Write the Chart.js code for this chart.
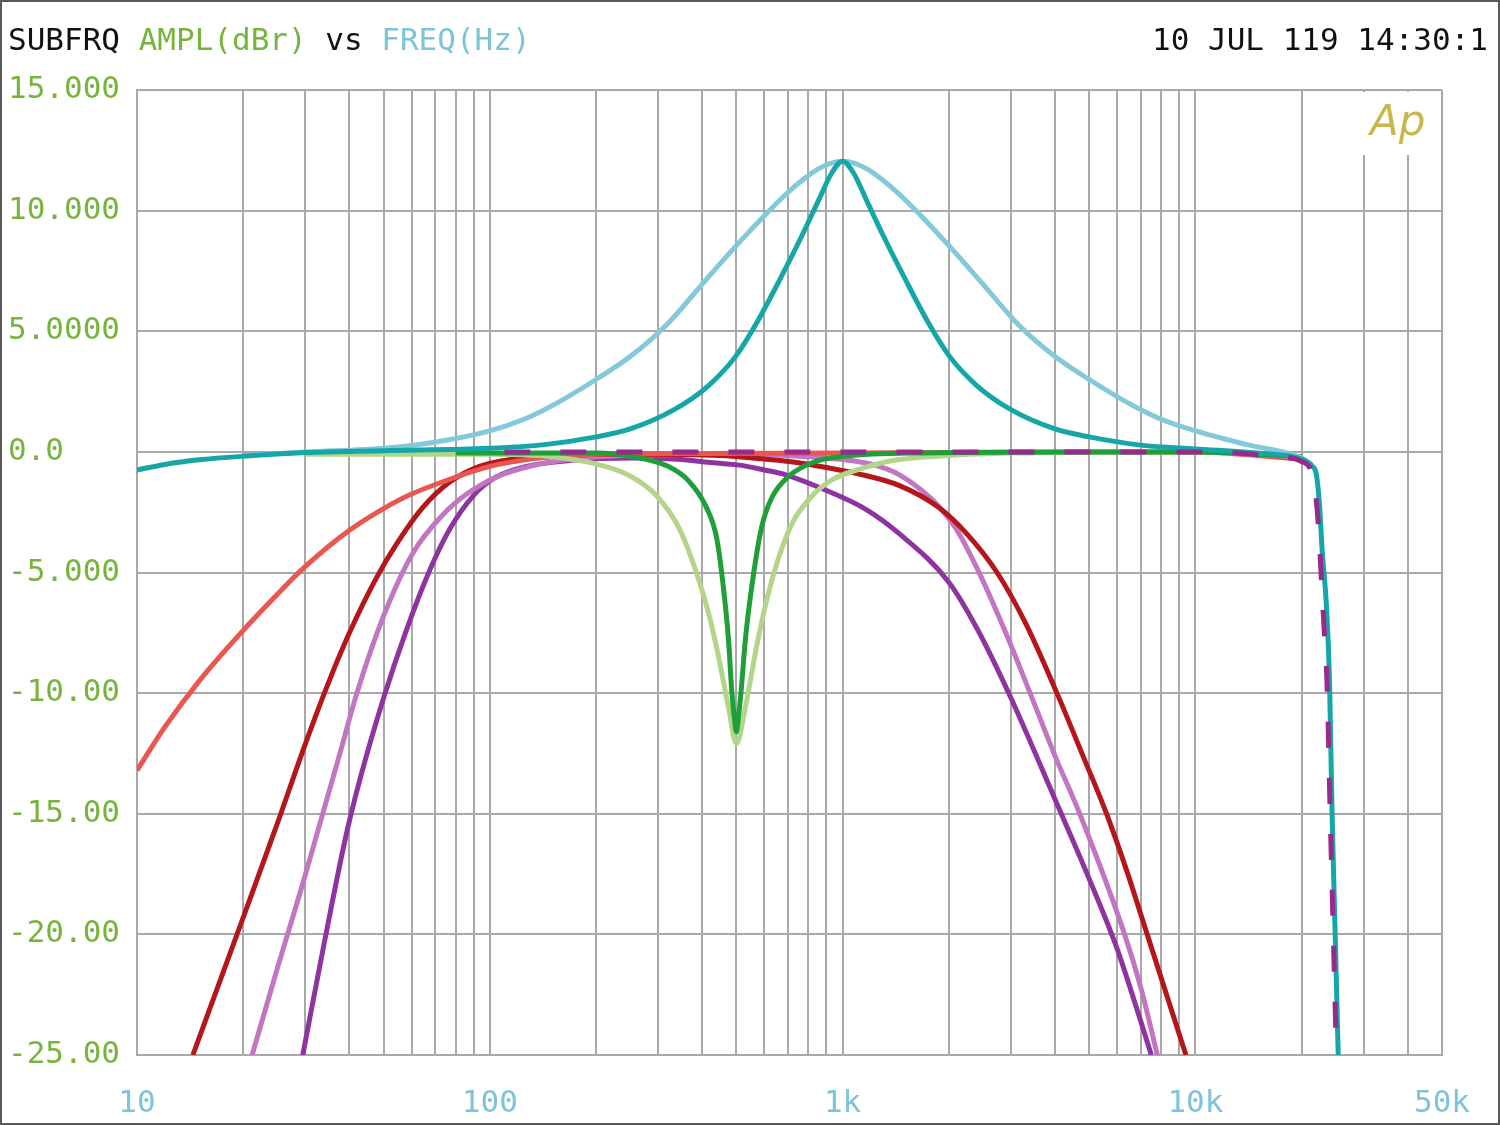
<!DOCTYPE html>
<html>
<head>
<meta charset="utf-8">
<title>SUBFRQ AMPL(dBr) vs FREQ(Hz)</title>
<script src="https://cdn.jsdelivr.net/npm/chart.js@4.4.1/dist/chart.umd.min.js"></script>
<style>
    html, body { margin: 0; padding: 0; background: #fff; }
    canvas { display: block; }
</style>
</head>
<body>
<canvas id="subfrq-chart" width="1500" height="1125"></canvas>
<script>
// axis ticks
var gridFreqs = [10, 20, 30, 40, 50, 60, 70, 80, 90,
    100, 200, 300, 400, 500, 600, 700, 800, 900,
    1000, 2000, 3000, 4000, 5000, 6000, 7000, 8000, 9000,
    10000, 20000, 30000, 40000, 50000];
var xLabelFreqs = [10, 100, 1000, 10000, 50000];
var xLabelText = ['10', '100', '1k', '10k', '50k'];
var yTickValues = [15, 10, 5, 0, -5, -10, -15, -20, -25];
var yTickText = ['15.000', '10.000', '5.0000', '0.0', '-5.000', '-10.00', '-15.00', '-20.00', '-25.00'];

// curves (Hz / dBr)
var magFreq = [110, 1000, 10000, 17000, 20000, 21300, 21800, 22300, 22800, 23200, 23600, 24100, 24600, 25100];
var magDb = [0, 0, 0, -0.2, -0.4, -0.8, -1.5, -3.0, -5.5, -7.5, -9.5, -15, -20, -25];

var tealFreq = [10, 12, 15, 20, 30, 50, 100, 143, 200, 250, 333, 417, 500, 571, 667, 769, 847, 935, 1000,
    1070, 1180, 1300, 1500, 1750, 2000, 2400, 3000, 4000, 5000, 7000, 10000, 15000, 20000,
    21450, 22000, 22450, 22900, 23500, 24000, 24400, 24900, 25400];
var tealDb = [-0.75, -0.52, -0.33, -0.18, -0.03, 0.05, 0.15, 0.3, 0.62, 0.95, 1.75, 2.75, 4.0, 5.35, 7.2, 9.0, 10.3, 11.6, 12.05,
    11.6, 10.3, 9.0, 7.2, 5.35, 4.0, 2.75, 1.75, 0.95, 0.62, 0.28, 0.12, -0.05, -0.3,
    -0.6, -0.9, -2.1, -4.2, -6.3, -9.5, -15, -20, -25];

var lblueFreq = [20, 30, 50, 71, 100, 125, 154, 200, 250, 316, 408, 501, 603, 692, 776, 851, 923, 1000,
    1084, 1175, 1288, 1445, 1660, 1995, 2450, 3160, 4000, 5000, 6500, 8000, 10000, 14000, 20000, 21450];
var lblueDb = [-0.15, 0, 0.15, 0.42, 0.87, 1.35, 2.0, 3.0, 3.95, 5.25, 7.1, 8.57, 9.82, 10.69, 11.31, 11.72, 11.96, 12.05,
    11.96, 11.72, 11.31, 10.69, 9.82, 8.57, 7.1, 5.25, 3.95, 3.0, 2.0, 1.35, 0.87, 0.3, -0.25, -0.55];

var greenFreq = [80, 200, 255, 320, 366, 411, 440, 460, 475, 485, 495, 500, 505, 515, 530, 555, 590, 630, 705, 820, 980, 1500, 5000, 10000, 20000];
var greenDb = [-0.05, -0.05, -0.2, -0.6, -1.2, -2.3, -3.6, -5.7, -7.8, -9.9, -11.2, -11.6, -11.2, -10.0, -7.8, -5.4, -3.1, -1.9, -1.0, -0.45, -0.2, -0.05, 0, 0, -0.2];

var lgreenFreq = [30, 100, 150, 200, 250, 296, 345, 385, 419, 445, 475, 500, 530, 570, 610, 660, 720, 810, 935, 1100, 1400, 2000, 3000, 10000, 20000];
var lgreenDb = [-0.1, -0.1, -0.2, -0.5, -1.0, -1.8, -3.2, -5.0, -6.8, -8.5, -10.6, -12.1, -10.6, -8.1, -6.1, -4.35, -2.95, -1.9, -1.15, -0.75, -0.35, -0.15, -0.05, 0, -0.2];

var coralFreq = [10, 12, 15, 20, 25, 30, 40, 50, 60, 80, 100, 130, 170, 250, 1000, 5000, 10000, 20000];
var coralDb = [-13.2, -11.4, -9.5, -7.4, -5.9, -4.75, -3.25, -2.35, -1.75, -1.05, -0.6, -0.3, -0.15, -0.08, -0.05, 0, 0, -0.3];

var redFreq = [14.4, 20, 25, 29.5, 34.5, 40, 47.8, 54.5, 64.6, 77, 93.5, 116, 150, 250, 450, 600, 750, 900,
    1100, 1450, 1870, 2250, 2740, 3300, 4050, 4800, 5600, 6400, 7300, 9400];
var redDb = [-25, -19.3, -15.4, -12.4, -9.75, -7.5, -5.2, -3.8, -2.3, -1.25, -0.6, -0.3, -0.15, -0.1, -0.15, -0.3, -0.45, -0.65,
    -0.9, -1.4, -2.3, -3.4, -5.0, -7.1, -10.0, -12.6, -15.0, -17.4, -20.0, -25];

var orchidFreq = [21.2, 25, 29.5, 33.6, 37.6, 42, 50, 60.5, 73.7, 86, 104, 130, 170, 250, 500, 800,
    1100, 1300, 1450, 1800, 2100, 2400, 2900, 3400, 4000, 4700, 6300, 7000, 7800];
var orchidDb = [-25, -21.4, -17.9, -15.0, -12.5, -10.0, -6.8, -4.2, -2.6, -1.75, -1.05, -0.6, -0.3, -0.15, -0.1, -0.2,
    -0.4, -0.65, -0.95, -2.0, -3.2, -4.8, -7.5, -10.0, -12.6, -15.0, -20.0, -22.2, -25];

var purpleFreq = [29.5, 34, 39, 42.8, 50, 58, 67.6, 77, 90, 104, 127, 170, 250, 330, 430, 510, 600, 690,
    900, 1170, 1450, 2000, 2400, 3000, 4000, 5000, 6000, 7000, 7500];
var purpleDb = [-25, -20.3, -16.0, -13.6, -10.2, -7.4, -4.9, -3.2, -1.8, -1.05, -0.6, -0.35, -0.25, -0.3, -0.45, -0.55, -0.75, -0.95,
    -1.6, -2.4, -3.4, -5.4, -7.3, -10.2, -14.4, -17.7, -20.6, -23.6, -25];

var GREEN_TXT = '#76b43e';
var BLUE_TXT = '#7cc4d8';
var GRID = '#a8a8a8';
var MONO = '"DejaVu Sans Mono", "Liberation Mono", monospace';

function pts(freqs, dbs) {
    return freqs.map(function (f, i) { return { x: f, y: dbs[i] }; });
}

function trace(label, freqs, dbs, color, dash) {
    return {
        label: label,
        data: pts(freqs, dbs),
        borderColor: color,
        borderWidth: 5,
        borderDash: dash || [],
        pointRadius: 0,
        fill: false,
        cubicInterpolationMode: 'monotone'
    };
}

// title, date stamp, Ap logo and outer frame
var decorPlugin = {
    id: 'decor',
    beforeDatasetsDraw: function (chart) {
        var ctx = chart.ctx;
        var x = chart.scales.x, y = chart.scales.y;
        var top = chart.chartArea.top;
        // the 30k/40k grid lines stop under the logo
        var x0 = x.getPixelForValue(26000), x1 = x.getPixelForValue(46000);
        ctx.save();
        ctx.fillStyle = '#fff';
        ctx.fillRect(x0, top + 2, x1 - x0, y.getPixelForValue(12.3) - top - 2);
        ctx.restore();
    },
    afterDraw: function (chart) {
        var ctx = chart.ctx;
        ctx.save();
        ctx.font = '31px ' + MONO;
        ctx.textBaseline = 'alphabetic';
        ctx.textAlign = 'left';
        var parts = [['SUBFRQ ', '#111'], ['AMPL(dBr)', GREEN_TXT], [' vs ', '#111'], ['FREQ(Hz)', BLUE_TXT]];
        var tx = 8;
        parts.forEach(function (p) {
            ctx.fillStyle = p[1];
            ctx.fillText(p[0], tx, 50);
            tx += ctx.measureText(p[0]).width;
        });
        ctx.fillStyle = '#111';
        ctx.textAlign = 'right';
        ctx.fillText('10 JUL 119 14:30:1', 1488, 50);

        ctx.font = 'italic 200 42px "DejaVu Sans ExtraLight", "DejaVu Sans", sans-serif';
        ctx.fillStyle = '#c8b84a';
        ctx.textAlign = 'left';
        ctx.fillText('Ap', 1370, 135);

        ctx.strokeStyle = '#5a5a5a';
        ctx.lineWidth = 4;
        ctx.strokeRect(0, 0, chart.width, chart.height);
        ctx.restore();
    }
};

document.addEventListener("DOMContentLoaded", function () {
    var ctx = document.getElementById('subfrq-chart').getContext('2d');

    // first dataset is drawn on top
    var datasets = [
        trace('flat', magFreq, magDb, '#982a8e', [26, 30]),
        trace('peak narrow', tealFreq, tealDb, '#16a6a8'),
        trace('peak wide', lblueFreq, lblueDb, '#84c9da'),
        trace('notch narrow', greenFreq, greenDb, '#1f9f3a'),
        trace('notch wide', lgreenFreq, lgreenDb, '#b3d58a'),
        trace('low cut', coralFreq, coralDb, '#ea5650'),
        trace('band 1', redFreq, redDb, '#b5161a'),
        trace('band 2', orchidFreq, orchidDb, '#c275c2'),
        trace('band 3', purpleFreq, purpleDb, '#8e34a0')
    ];

    var options = {
        responsive: false,
        maintainAspectRatio: false,
        animation: false,
        layout: {
            padding: { left: 8, right: 58, top: 90, bottom: 0 }
        },
        plugins: {
            legend: { display: false },
            tooltip: { enabled: false },
            title: { display: false }
        },
        scales: {
            x: {
                type: 'logarithmic',
                min: 10,
                max: 50000,
                afterBuildTicks: function (scale) {
                    scale.ticks = gridFreqs.map(function (v) { return { value: v }; });
                },
                afterFit: function (scale) { scale.height = 70; },
                grid: { color: GRID, lineWidth: 2, drawTicks: false },
                border: { color: GRID, width: 2 },
                ticks: {
                    autoSkip: false,
                    maxRotation: 0,
                    padding: 30,
                    color: BLUE_TXT,
                    font: { family: MONO, size: 31 },
                    callback: function (value) {
                        var i = xLabelFreqs.indexOf(value);
                        return i >= 0 ? xLabelText[i] : '';
                    }
                }
            },
            y: {
                type: 'linear',
                min: -25,
                max: 15,
                afterBuildTicks: function (scale) {
                    scale.ticks = yTickValues.map(function (v) { return { value: v }; });
                },
                afterFit: function (scale) { scale.width = 129; },
                grid: { color: GRID, lineWidth: 2, drawTicks: false },
                border: { color: GRID, width: 2 },
                ticks: {
                    crossAlign: 'far',
                    color: GREEN_TXT,
                    font: { family: MONO, size: 31 },
                    callback: function (value) {
                        var i = yTickValues.indexOf(value);
                        return i >= 0 ? yTickText[i] : '';
                    }
                }
            }
        }
    };

    new Chart(ctx, {
        type: 'line',
        data: { datasets: datasets },
        options: options,
        plugins: [decorPlugin]
    });
});
</script>
</body>
</html>
